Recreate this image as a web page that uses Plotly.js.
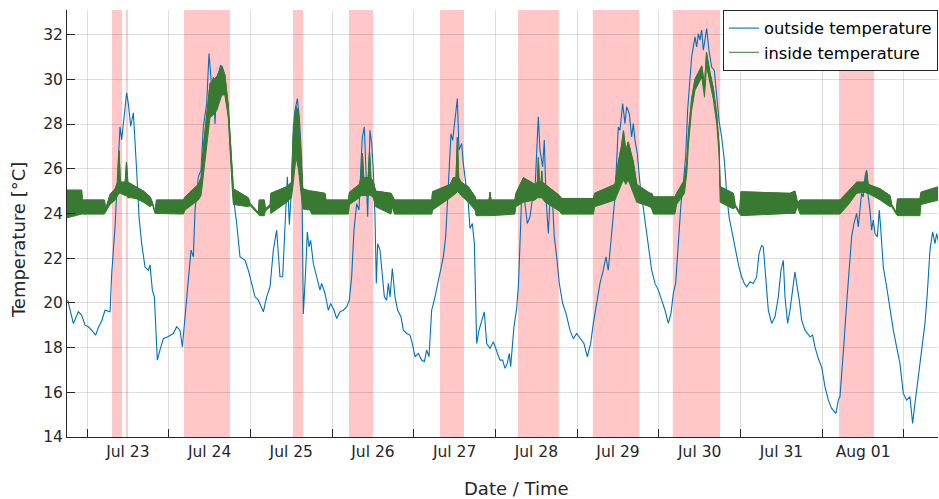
<!DOCTYPE html>
<html><head><meta charset="utf-8">
<script src="https://cdn.plot.ly/plotly-3.0.1.min.js"></script>
<style>html,body{margin:0;padding:0;background:#fff}#chart{width:939px;height:499px}</style>
</head><body><div id="chart"></div>
<script>
// Hours since Jul 23 00:00
const baseDate = Date.UTC(2019, 6, 23, 0, 0, 0);

const outHours = [-5.68,-4.99,-4.01,-2.55,-1.57,-0.59,0.39,1.37,2.55,3.33,4.31,5.29,6.76,7.25,8.23,9.20,9.69,10.18,10.97,11.65,12.14,12.83,13.61,14.10,14.59,15.28,16.06,17.04,18.02,18.51,19.19,19.78,20.17,20.66,21.44,22.42,23.89,25.36,26.34,27.32,28.01,28.79,29.77,30.55,31.24,31.73,32.71,33.49,34.17,35.15,35.84,36.62,37.11,37.60,38.09,38.58,39.27,40.05,40.54,41.52,42.20,42.99,43.97,44.94,46.41,47.39,48.37,49.35,50.33,51.80,52.78,53.76,54.74,55.71,56.20,56.69,57.48,57.87,58.46,58.85,59.44,59.93,60.61,61.10,61.79,62.37,63.06,63.55,64.23,64.72,65.21,65.70,66.49,67.47,68.44,68.93,69.91,70.89,71.58,72.56,73.34,74.32,75.30,76.28,77.06,77.75,78.43,79.22,79.90,80.49,80.88,81.47,81.86,82.45,83.13,83.62,84.11,84.60,84.99,85.39,86.07,86.56,87.35,88.03,88.52,89.01,89.70,90.48,91.26,92.24,92.93,93.91,94.89,95.57,96.36,97.33,98.31,99.10,99.78,100.47,101.25,102.23,103.21,103.99,104.68,105.36,106.15,106.93,107.42,108.11,108.79,109.28,110.06,110.55,111.34,112.02,112.51,113.20,113.79,114.47,115.16,115.94,116.72,117.41,118.39,119.37,120.35,121.32,122.10,122.79,123.47,124.06,124.45,125.04,125.43,126.22,126.71,127.20,127.68,128.17,128.66,129.35,130.13,130.92,131.60,132.09,132.58,133.07,133.85,134.34,134.83,135.52,136.01,136.69,137.28,137.97,138.75,139.73,140.71,141.88,142.86,143.84,145.02,145.99,146.97,147.95,148.74,149.72,150.70,151.67,152.46,153.14,153.63,154.42,155.10,156.08,156.57,157.36,158.04,158.53,159.31,160.00,160.49,160.98,161.66,162.45,163.23,163.92,164.90,165.88,166.86,167.84,168.82,169.80,170.77,171.56,172.24,172.93,173.71,174.50,175.18,175.87,176.45,177.14,177.63,178.12,178.61,179.10,179.59,180.08,180.57,181.06,181.55,182.04,182.72,183.50,184.29,184.97,185.66,186.44,187.23,187.91,188.60,189.38,190.16,190.85,191.53,192.32,193.10,193.79,194.76,195.74,196.72,197.41,198.19,198.68,199.37,200.15,201.13,202.11,203.09,203.87,204.56,205.05,205.83,206.51,207.29,207.98,208.47,209.25,209.94,210.92,212.39,213.17,213.85,214.83,215.81,216.79,217.77,218.75,220.02,220.71,221.20,221.69,222.37,223.16,223.94,224.63,225.31,226.09,226.58,227.07,227.56,228.05,228.54,229.03,229.52,230.01,230.50,230.99,231.48,232.17,232.75,233.14,233.93,234.91,235.89,236.87,237.84,238.82,239.80,240.78,241.76,242.54,243.23,244.21,245.19,246.17,246.85,247.64,248.42,249.11,249.60,250.28];

const outTemp = [20.12,19.7,19.08,19.6,19.45,19.0,18.93,18.78,18.56,18.9,19.2,19.67,19.6,21.3,23.4,26.4,27.87,27.3,28.6,29.4,28.9,27.9,28.5,27.4,25.9,23.85,22.65,21.6,21.46,21.7,20.57,20.27,18.93,17.44,17.9,18.4,18.5,18.63,18.93,18.78,18.03,19.38,20.87,22.36,22.06,24.15,25.64,25.94,27.87,28.9,31.15,29.66,30.1,28.0,29.66,30.26,30.63,30.1,29.96,28.47,26.68,24.74,23.55,22.06,21.9,21.46,20.87,20.27,20.12,19.6,20.27,20.72,22.36,23.25,22.2,21.17,21.17,22.65,24.74,25.64,23.5,24.74,27.87,28.6,29.14,28.3,26.4,19.5,21.46,23.18,22.5,22.8,21.76,21.17,20.57,20.87,20.42,19.67,19.97,19.67,19.3,19.6,19.67,19.82,20.12,21.17,23.25,24.44,24.15,26.23,27.42,27.87,26.23,23.85,27.72,27.13,25.94,23.85,20.87,22.65,22.36,21.46,20.27,20.12,20.87,20.27,21.54,20.27,19.67,19.38,18.78,18.63,18.56,18.18,17.59,17.74,17.44,17.37,17.89,17.59,19.67,20.27,21.0,21.46,22.06,22.95,25.34,27.57,27.27,28.17,29.14,26.83,27.13,26.23,25.34,24.44,23.33,23.55,22.65,18.18,18.78,19.23,19.6,18.18,17.96,18.26,17.89,17.44,17.44,17.07,17.29,17.74,17.14,18.03,18.93,19.75,20.72,22.65,24.74,25.56,24.44,23.55,23.85,24.74,25.04,26.68,28.32,26.83,26.08,27.28,24.74,23.1,24.6,24.74,22.95,22.06,20.87,19.97,19.53,18.78,18.4,18.63,18.4,18.18,17.59,18.18,19.08,19.97,20.87,21.46,22.06,21.46,22.2,23.55,24.74,27.87,27.72,28.92,28.02,28.77,28.47,27.42,28.02,27.28,26.68,25.34,24.44,23.55,22.36,21.46,20.87,20.57,20.12,19.67,19.08,19.53,20.42,20.87,22.65,24.44,25.34,26.53,28.62,30.1,31.0,31.45,31.9,31.45,32.04,31.75,32.2,31.3,31.75,32.27,31.3,30.55,30.4,29.2,28.17,27.42,26.38,24.9,23.85,23.25,22.65,22.06,21.6,21.17,20.87,20.72,20.94,20.87,21.17,22.2,22.57,22.5,21.17,19.67,19.08,19.38,20.27,21.46,21.9,20.27,19.08,19.67,20.57,21.39,20.87,20.12,19.23,18.78,18.48,18.56,18.03,17.51,17.14,16.25,15.65,15.28,15.06,15.65,15.8,17.0,18.18,19.97,21.6,22.95,23.55,24.0,23.4,24.3,24.9,24.74,25.64,25.94,24.74,24.15,23.25,23.7,23.1,22.95,24.15,23.4,21.6,20.72,19.67,18.78,18.03,17.29,15.95,15.65,15.8,14.61,15.5,16.7,17.74,19.08,20.42,22.36,23.18,22.65,23.1,22.65];

// Inside temperature: lower and upper envelope of the rapidly oscillating reading
const inHours = [-5.97,-1.57,-1.37,5.1,5.5,6.77,8.24,9.0,9.4,9.8,11.2,11.6,12.0,13.1,14.6,16.6,18.5,19.2,20.0,20.4,28.3,28.8,32.7,33.5,34.2,35.2,35.9,36.13,37.1,38.1,39.6,40.5,41.5,42.2,42.7,43.0,47.4,47.9,50.3,50.6,52.1,52.4,53.8,54.0,58.7,60.1,60.6,61.4,62.1,62.8,63.4,65.5,66.0,69.9,70.2,76.8,77.1,80.0,80.5,80.9,81.3,82.6,83.0,83.4,84.1,84.8,89.3,89.7,90.3,101.3,101.5,106.7,107.6,108.4,108.8,109.2,109.9,112.0,114.0,114.3,118.1,118.4,118.7,125.7,126.0,128.2,131.6,132.3,132.6,132.9,133.4,133.6,133.8,134.6,138.8,139.4,148.8,149.1,155.1,156.1,157.0,157.6,158.3,159.0,160.5,161.5,165.4,165.9,166.4,172.7,173.2,175.5,176.2,176.7,177.6,178.6,179.6,180.6,181.4,182.0,183.0,184.0,185.0,185.7,186.0,189.9,190.4,191.7,192.1,206.5,208.0,208.7,209.5,221.2,223.7,226.1,228.6,229.0,229.5,233.0,235.9,236.4,237.7,238.1,244.7,245.0,250.3];
const inLow = [23.8,23.97,23.97,23.97,24.1,24.4,24.6,24.8,24.9,24.9,24.8,24.8,24.7,24.7,24.65,24.5,24.3,24.4,24.0,23.97,23.97,24.15,24.6,24.8,25.5,27.0,28.0,28.3,28.4,28.6,29.3,29.3,28.3,26.5,25.0,24.4,24.3,24.35,23.97,23.9,23.9,24.1,24.3,24.0,24.5,24.7,25.5,26.5,26.0,25.0,24.2,24.15,23.97,23.97,23.97,23.97,24.4,24.7,24.8,24.8,24.8,24.8,24.8,24.8,24.7,24.3,23.97,24.3,23.97,23.97,24.15,24.7,24.8,24.9,25.0,24.9,24.8,24.5,24.15,23.9,23.9,23.9,23.9,23.97,24.3,24.5,24.6,24.7,24.7,24.7,24.7,24.7,24.7,24.5,24.1,23.97,23.97,24.3,24.6,25.0,25.3,25.5,25.3,25.5,24.9,24.5,24.3,24.2,23.97,23.97,24.4,24.9,25.8,27.1,28.6,29.5,29.8,30.1,29.2,30.6,29.8,29.1,28.0,26.6,24.5,24.2,24.3,23.97,23.9,24.0,24.0,24.3,23.97,23.97,24.4,24.9,24.95,24.9,24.9,24.6,24.3,24.3,23.97,23.9,23.9,24.4,24.6];
const inHigh = [25.04,25.04,24.6,24.6,24.2,24.85,25.1,25.4,26.8,25.4,25.4,26.3,25.4,25.3,25.2,25.0,24.75,24.5,24.05,24.6,24.6,24.74,25.3,25.6,27.0,28.6,29.5,29.8,30.0,30.1,30.6,30.2,28.8,26.9,25.4,25.1,24.7,24.45,24.05,24.6,24.6,24.2,24.4,24.9,25.2,25.4,27.5,28.8,28.5,26.5,25.1,25.0,25.0,24.9,24.6,24.6,24.95,25.3,25.6,26.7,25.6,25.6,26.8,25.6,25.4,25.0,24.9,24.8,24.6,24.6,24.97,25.3,25.6,25.6,27.4,25.6,25.4,25.2,24.75,24.6,24.6,24.95,24.6,24.6,24.9,25.6,25.3,25.4,26.5,25.4,25.4,25.9,25.4,25.3,24.8,24.67,24.67,24.9,25.3,26.3,27.0,27.7,26.8,27.2,26.3,25.3,24.9,24.9,24.74,24.74,24.9,25.5,26.3,27.6,29.1,30.0,30.3,30.6,29.7,31.2,30.3,29.6,28.4,27.0,25.2,24.9,24.4,24.05,24.97,24.9,25.0,24.5,24.6,24.6,25.0,25.4,25.4,25.9,25.3,25.1,24.8,24.4,24.05,24.65,24.65,24.95,25.2];

// Shaded periods (hours since Jul 23 00:00)
const shadeStart = [7.34,11.4,28.49,60.51,76.97,103.7,126.6,148.6,172.1,220.9];
const shadeEnd   = [10.28,12.0,42.01,63.45,84.02,110.75,138.6,162.2,186.0,231.2];

const viewStart = -5.88, viewEnd = 250.0;
const yRange = [14, 33.1];

function toDate(h){
  const d = new Date(baseDate + h*3600000);
  const p = n => String(n).padStart(2,'0');
  return d.getUTCFullYear()+'-'+p(d.getUTCMonth()+1)+'-'+p(d.getUTCDate())+' '+p(d.getUTCHours())+':'+p(d.getUTCMinutes())+':'+p(d.getUTCSeconds());
}

const blue = '#0072BD', green = 'rgb(56,122,50)';
const font = 'DejaVu Sans';

// band polygon built from the two envelopes
const bandX = inHours.concat(inHours.slice().reverse()).map(toDate);
const bandY = inHigh.concat(inLow.slice().reverse());

const traces = [
  {x: outHours.map(toDate), y: outTemp, type:'scatter', mode:'lines', name:'outside temperature',
   line:{color:blue, width:1.1}},
  {x: bandX, y: bandY, type:'scatter', mode:'lines', name:'inside temperature', showlegend:false,
   fill:'toself', fillcolor:green, line:{color:green, width:1}},
  {x: inHours.map(toDate), y: inHigh, type:'scatter', mode:'lines', name:'inside temperature',
   line:{color:green, width:1}}
];

const shapes = shadeStart.map((s,i)=>({type:'rect', xref:'x', yref:'paper', x0:toDate(s), x1:toDate(shadeEnd[i]),
  y0:0, y1:1, fillcolor:'rgb(255,199,199)', line:{width:0}, layer:'below'}));

const axisCommon = {showgrid:true, gridcolor:'rgba(0,0,0,0.13)', gridwidth:1, zeroline:false,
  showline:true, linecolor:'#262626', linewidth:1, ticks:'inside', ticklen:8, tickcolor:'#262626',
  tickfont:{family:font, size:15.5, color:'#262626'}, mirror:false};

const layout = {
  width:939, height:499, paper_bgcolor:'#fff', plot_bgcolor:'rgba(0,0,0,0)',
  margin:{l:67, r:1, t:10, b:62},
  font:{family:font, color:'#262626'},
  showlegend:true,
  legend:{x:1, y:1, xanchor:'right', yanchor:'top', bgcolor:'#fff', bordercolor:'#262626', borderwidth:1,
    font:{family:font, size:16.3, color:'#000'}, tracegroupgap:0, traceorder:'normal'},
  xaxis: Object.assign({}, axisCommon, {type:'date', range:[toDate(viewStart), toDate(viewEnd)],
    tickmode:'linear', tick0:'2019-07-23', dtick:86400000, tickformat:'%b %d', ticklabelmode:'period'}),
  yaxis: Object.assign({}, axisCommon, {range:yRange, tickmode:'linear', tick0:14, dtick:2}),
  shapes: shapes,
  annotations:[
    {text:'Date / Time', xref:'paper', yref:'paper', x:0.5166, y:-0.12, xanchor:'center', yanchor:'middle',
     showarrow:false, font:{family:font, size:18, color:'#262626'}},
    {text:'Temperature [°C]', xref:'paper', yref:'paper', x:-0.0563, y:0.461, xanchor:'center', yanchor:'middle',
     textangle:-90, showarrow:false, font:{family:font, size:18, color:'#262626'}}
  ]
};

Plotly.newPlot('chart', traces, layout, {staticPlot:true, displayModeBar:false});
</script>
</body></html>
